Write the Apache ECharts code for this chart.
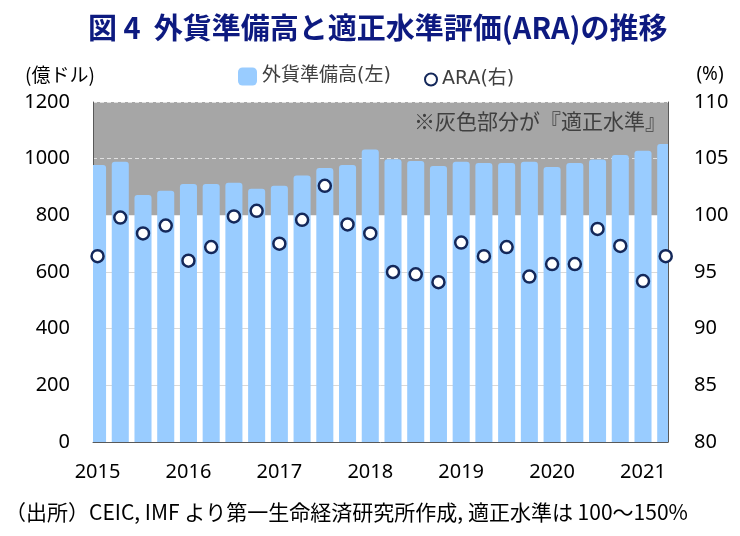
<!DOCTYPE html>
<html><head><meta charset="utf-8">
<script src="https://cdn.jsdelivr.net/npm/echarts@6/dist/echarts.min.js"></script>
<style>html,body{margin:0;padding:0;background:#fff}#c{width:740px;height:536px}</style>
</head><body><div id="c"></div>
<script>
// Quarterly data, 2015Q1 - 2021Q2
const quarters = ['2015Q1','2015Q2','2015Q3','2015Q4','2016Q1','2016Q2','2016Q3','2016Q4',
  '2017Q1','2017Q2','2017Q3','2017Q4','2018Q1','2018Q2','2018Q3','2018Q4',
  '2019Q1','2019Q2','2019Q3','2019Q4','2020Q1','2020Q2','2020Q3','2020Q4','2021Q1','2021Q2'];
// 外貨準備高 (億ドル, left axis)
const reserves = [978, 989, 872, 887, 911, 911, 915, 894, 904, 941, 967, 978,
  1032, 998, 992, 974, 989, 985, 985, 989, 971, 985, 997, 1013, 1028, 1052];
// ARA (%, right axis)
const ara = [96.4, 99.8, 98.4, 99.1, 96.0, 97.2, 99.9, 100.4, 97.5, 99.6, 102.6, 99.2,
  98.4, 95.0, 94.8, 94.1, 97.6, 96.4, 97.2, 94.6, 95.7, 95.7, 98.8, 97.3, 94.2, 96.4];
// x-axis tick labels (placed at first quarter of each year)
const yearLabels = ['2015','2016','2017','2018','2019','2020','2021'];
const yearTickIndex = [0, 4, 8, 12, 16, 20, 24];

const CJK = "'Noto Sans CJK JP', sans-serif";
const MIX = "'DejaVu Sans', 'Noto Sans CJK JP', sans-serif";
const NUM = "'Noto Sans', 'Noto Sans CJK JP', sans-serif";
const T = 'rgba(0,0,0,0)';
const BAR = '#99ccff';

// bars drawn through the axis scales, clipped to the plot area
function renderBar(params, api) {
  const i = api.value(0), v = api.value(1);
  const top = api.coord([i, v]);
  const base = api.coord([i, 0]);
  const w = api.size([1, 0])[0] * 0.75;
  const cs = params.coordSys;
  const full = {x: top[0] - w / 2, y: top[1], width: w, height: base[1] - top[1]};
  const shape = echarts.graphic.clipRectByRect(full, {x: cs.x, y: cs.y, width: cs.width, height: cs.height});
  if (!shape) return;
  const rl = shape.x > full.x + 0.5 ? 0 : 3;
  const rr = shape.x + shape.width < full.x + full.width - 0.5 ? 0 : 3;
  shape.r = [rl, rr, 0, 0];
  return {type: 'rect', shape: shape, style: {fill: BAR}};
}

const chart = echarts.init(document.getElementById('c'), null, {renderer: 'canvas'});
chart.setOption({
  animation: false,
  textStyle: {fontFamily: CJK},
  title: [
    {text: '図 4  外貨準備高と適正水準評価(ARA)の推移', left: 88, top: 13, padding: 0,
     textStyle: {fontFamily: CJK, fontSize: 29, fontWeight: 'bold', color: '#0d1a80'}},
    {text: '※灰色部分が『適正水準』', right: 74, top: 111, padding: 0,
     textStyle: {fontFamily: CJK, fontSize: 21, fontWeight: 'normal', color: '#404040'}},
    {text: '（出所）CEIC, IMF より第一生命経済研究所作成, 適正水準は 100～150%', left: 5, top: 502, padding: 0,
     textStyle: {fontFamily: CJK, fontSize: 21, fontWeight: 'normal', color: '#000'}}
  ],
  legend: [
    {data: [{name: '外貨準備高(左)', icon: 'roundRect'}], left: 238, top: 67, padding: 0,
     itemWidth: 19, itemHeight: 18,
     textStyle: {fontFamily: MIX, fontSize: 19, color: '#404040'}},
    {data: [{name: 'ARA(右)', icon: 'circle'}], left: 424, top: 70, padding: 0,
     itemWidth: 12, itemHeight: 12,
     textStyle: {fontFamily: MIX, fontSize: 19, color: '#404040'}}
  ],
  grid: {left: 93, right: 72, top: 102, bottom: 94, containLabel: false},
  xAxis: {
    type: 'value', min: -0.2, max: 25.1,
    axisLine: {show: true, onZero: false, lineStyle: {color: '#595959', width: 1}},
    axisTick: {show: false},
    splitLine: {show: false},
    axisLabel: {
      customValues: yearTickIndex,
      formatter: function (v) { const k = yearTickIndex.indexOf(Math.round(v)); return k >= 0 ? yearLabels[k] : ''; },
      fontFamily: NUM, fontSize: 20, color: '#000', margin: 20
    }
  },
  yAxis: [
    {
      type: 'value', min: 0, max: 1200, interval: 200, position: 'left',
      name: '(億ドル)', nameLocation: 'end', nameGap: 18,
      nameTextStyle: {fontFamily: CJK, fontSize: 19, color: '#000', align: 'center', padding: [0, 66, 0, 0]},
      axisLine: {show: true, onZero: false, lineStyle: {color: '#595959', width: 1}},
      axisTick: {show: false},
      axisLabel: {fontFamily: NUM, fontSize: 20, color: '#000', margin: 23,
        formatter: function (v) { return String(v); }},
      splitLine: {show: true, showMinLine: true, showMaxLine: true,
        lineStyle: {color: [T, '#d9d9d9', '#d9d9d9', '#d9d9d9', T, T, T], width: 1}},
      splitArea: {show: true, areaStyle: {color: [T, T, T, T, '#a6a6a6', '#a6a6a6']}}
    },
    {
      type: 'value', min: 80, max: 110, interval: 5, position: 'right',
      name: '(%)', nameLocation: 'end', nameGap: 18,
      nameTextStyle: {fontFamily: NUM, fontSize: 19, color: '#000', align: 'center', padding: [0, 0, 0, 84]},
      axisLine: {show: true, onZero: false, lineStyle: {color: '#595959', width: 1}},
      axisTick: {show: false},
      axisLabel: {fontFamily: NUM, fontSize: 20, color: '#000', margin: 26,
        formatter: function (v) { return String(v); }},
      splitLine: {show: true, showMinLine: true, showMaxLine: true,
        lineStyle: {color: [T, T, T, T, T, '#e0e0e0', '#e0e0e0'], width: 1, type: [4, 3]}}
    }
  ],
  series: [
    {
      name: '外貨準備高(左)', type: 'custom', xAxisIndex: 0, yAxisIndex: 0, z: 2,
      data: reserves.map((v, i) => [i, v]),
      encode: {x: 0, y: 1},
      itemStyle: {color: BAR},
      renderItem: renderBar
    },
    {
      name: 'ARA(右)', type: 'scatter', xAxisIndex: 0, yAxisIndex: 1, z: 5,
      data: ara.map((v, i) => [i, v]),
      symbol: 'circle', symbolSize: 12,
      itemStyle: {color: '#ffffff', borderColor: '#14285a', borderWidth: 2.5, opacity: 1}
    }
  ]
});
</script></body></html>
